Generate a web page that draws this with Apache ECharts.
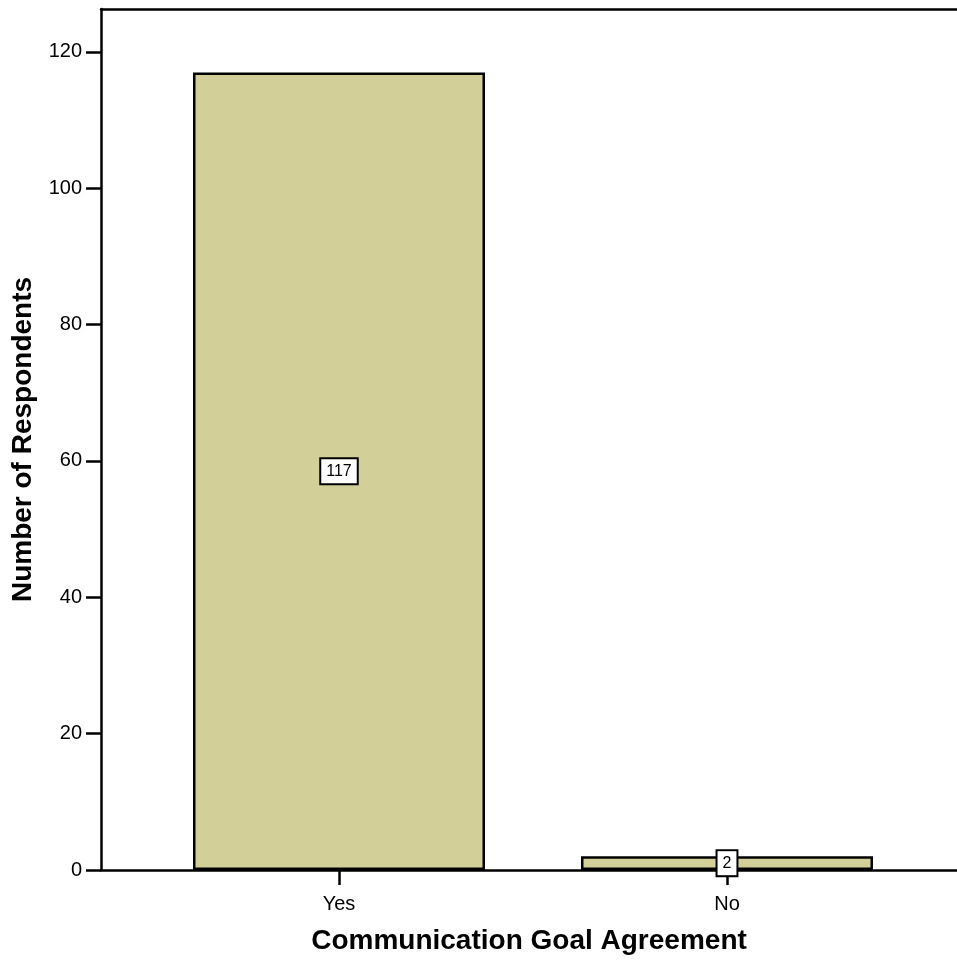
<!DOCTYPE html>
<html>
<head>
<meta charset="utf-8">
<script src="https://cdn.jsdelivr.net/npm/echarts@6/dist/echarts.min.js"></script>
<style>html,body{margin:0;padding:0;background:#fff}#c{width:957px;height:960px}</style>
</head>
<body>
<div id="c"></div>
<script>
var categories = ['Yes', 'No'];
var counts = [117, 2];
var yTicks = [0, 20, 40, 60, 80, 100, 120];
var xTitle = 'Communication Goal Agreement';
var yTitle = 'Number of Respondents';

var positions = categories.map(function (c, i) { return i + 1; });
var chart = echarts.init(document.getElementById('c'), null, {renderer: 'canvas'});
var font = 'Liberation Sans, Arial, sans-serif';
chart.setOption({
  animation: false,
  grid: {left: 101, right: 0, top: 9, bottom: 90, containLabel: false},
  xAxis: [{
    type: 'value',
    min: 0.3866, max: 2.5928,
    splitLine: {show: false},
    axisLine: {show: true, lineStyle: {color: '#000', width: 2.5}},
    axisTick: {show: true, length: 15, customValues: positions, lineStyle: {color: '#000', width: 2.5}},
    axisLabel: {customValues: positions, color: '#000', fontSize: 20, fontFamily: font, margin: 24,
      formatter: function (v) { return categories[Math.round(v) - 1] || ''; }},
    name: xTitle, nameLocation: 'middle', nameGap: 57,
    nameTextStyle: {color: '#000', fontSize: 28, fontWeight: 'bold', fontFamily: font}
  }, {
    type: 'value', position: 'top', min: 0, max: 1,
    axisLine: {show: true, onZero: false, lineStyle: {color: '#000', width: 2.5}},
    axisTick: {show: false}, axisLabel: {show: false}, splitLine: {show: false}
  }],
  yAxis: {
    type: 'value', min: 0, max: 126.3,
    splitLine: {show: false},
    axisLine: {show: true, lineStyle: {color: '#000', width: 2.5}},
    axisTick: {show: true, length: 15, customValues: yTicks, lineStyle: {color: '#000', width: 2.5}},
    axisLabel: {customValues: yTicks, color: '#000', fontSize: 20, fontFamily: font, margin: 19, padding: [3, 0, 0, 0]},
    name: yTitle, nameLocation: 'middle', nameGap: 61, nameRotate: 90,
    nameTextStyle: {color: '#000', fontSize: 28, fontWeight: 'bold', fontFamily: font}
  },
  series: [{
    type: 'bar',
    xAxisIndex: 0,
    barWidth: 292,
    data: positions.map(function (p, i) { return [p, counts[i]]; }),
    itemStyle: {color: '#d3cf99', borderColor: '#000', borderWidth: 2.5},
    label: {
      show: true, position: 'inside', color: '#000', fontSize: 16, fontFamily: font,
      backgroundColor: '#fff', borderColor: '#000', borderWidth: 2, padding: [4, 5, 4, 5],
      formatter: function (p) { return p.value[1]; }
    }
  }]
});
</script>
</body>
</html>
